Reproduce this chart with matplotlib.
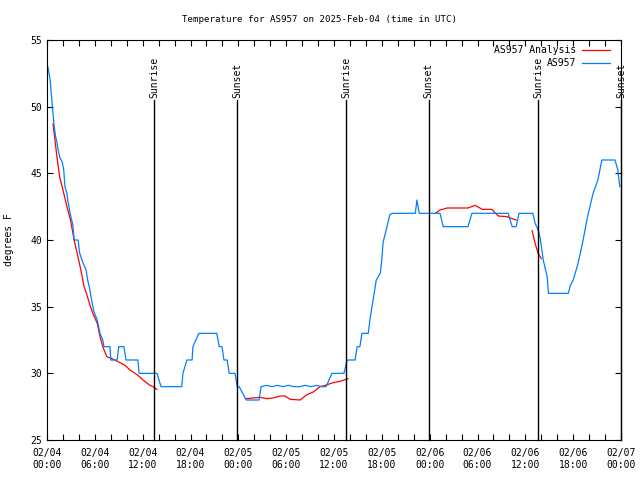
import numpy as np
import pandas as pd
import matplotlib
matplotlib.use("Agg")
import matplotlib.pyplot as plt
import matplotlib.dates as mdates

plt.rcParams['font.family'] = ['DejaVu Sans Mono']
plt.rcParams['font.size'] = 7

base = pd.Timestamp("2025-02-04 00:00")

# observed station temperature: (hours after 02/04 00:00 UTC, deg F)
obs = [(0.1, 53.0), (0.4, 52.0), (0.6, 50.5), (0.75, 49.5), (0.9, 48.5), (1.1, 47.7),
       (1.25, 47.3), (1.4, 46.75), (1.6, 46.2), (1.9, 45.85), (2.1, 45.25), (2.25, 44.0),
       (2.5, 43.5), (2.6, 43.0), (2.9, 42.0), (3.25, 41.1), (3.4, 40.0), (3.9, 40.0),
       (4.1, 39.0), (4.5, 38.3), (4.9, 37.75), (5.1, 37.0), (5.3, 36.5), (5.65, 35.3),
       (5.9, 34.6), (6.3, 34.0), (6.65, 33.0), (7.0, 32.5), (7.15, 32.0), (7.9, 32.0),
       (8.0, 31.0), (8.8, 31.0), (9.0, 32.0), (9.65, 32.0), (9.9, 31.0), (11.4, 31.0),
       (11.55, 30.0), (13.8, 30.0), (14.3, 29.0), (16.9, 29.0), (17.05, 30.0), (17.55, 31.0),
       (18.2, 31.0), (18.3, 32.0), (19.05, 33.0), (21.3, 33.0), (21.6, 32.0), (21.95, 32.0),
       (22.2, 31.0), (22.6, 31.0), (22.85, 30.0), (23.6, 30.0), (23.85, 29.0), (24.1, 29.0),
       (25.0, 28.0), (26.6, 28.0), (26.85, 29.0), (27.5, 29.1), (28.2, 29.0), (28.9, 29.1),
       (29.6, 29.0), (30.3, 29.1), (31.0, 29.0), (31.7, 29.0), (32.4, 29.1), (33.1, 29.0),
       (33.8, 29.1), (34.4, 29.0), (35.0, 29.0), (35.75, 30.0), (37.25, 30.0), (37.65, 31.0),
       (38.65, 31.0), (38.9, 32.0), (39.25, 32.0), (39.5, 33.0), (40.3, 33.0), (40.5, 34.0),
       (40.9, 35.5), (41.3, 37.0), (41.5, 37.2), (41.8, 37.5), (42.0, 38.5), (42.15, 39.8),
       (42.65, 41.0), (43.0, 41.9), (43.3, 42.0), (46.2, 42.0), (46.4, 43.0), (46.7, 42.0),
       (49.3, 42.0), (49.7, 41.0), (52.8, 41.0), (53.3, 42.0), (57.85, 42.0), (58.35, 41.0),
       (58.85, 41.0), (59.2, 42.0), (60.95, 42.0), (61.2, 41.3), (61.6, 40.75), (61.85, 40.2),
       (62.25, 38.5), (62.75, 37.2), (62.9, 36.0), (65.4, 36.0), (65.65, 36.6), (66.0, 37.0),
       (66.5, 38.0), (66.9, 39.0), (67.25, 40.0), (67.75, 41.6), (68.1, 42.5), (68.5, 43.5),
       (69.1, 44.5), (69.6, 46.0), (71.25, 46.0), (71.6, 45.25), (71.85, 44.0)]

# analysis temperature; NaN marks gaps
ana = [(0.75, 48.7), (1.0, 47.5), (1.25, 46.2), (1.6, 44.7), (2.0, 43.75), (2.5, 42.5),
       (2.9, 41.6), (3.1, 41.0), (3.4, 40.0), (3.9, 38.7), (4.25, 37.75), (4.65, 36.5),
       (5.0, 35.9), (5.4, 35.1), (5.75, 34.5), (6.3, 33.75), (6.65, 32.75), (7.0, 32.0),
       (7.5, 31.25), (8.15, 31.1), (9.15, 30.8), (9.8, 30.6), (10.4, 30.25), (11.3, 29.9),
       (12.05, 29.5), (12.9, 29.1), (13.3, 29.0), (13.8, 28.8), (14.0, np.nan),
       (25.0, 28.1), (25.85, 28.15), (26.7, 28.2), (27.6, 28.1), (28.35, 28.15),
       (29.25, 28.3), (29.85, 28.3), (30.5, 28.05), (31.75, 28.0), (32.6, 28.4),
       (33.4, 28.6), (34.25, 29.0), (34.9, 29.1), (35.9, 29.3), (36.75, 29.4),
       (37.75, 29.6), (38.0, np.nan),
       (48.7, 42.0), (49.3, 42.25), (50.2, 42.4), (52.8, 42.4), (53.7, 42.6), (54.6, 42.3),
       (55.8, 42.3), (56.6, 41.8), (57.7, 41.75), (58.35, 41.6), (58.85, 41.5), (59.0, np.nan),
       (60.85, 40.7), (61.2, 39.8), (61.6, 39.0), (62.0, 38.6)]

sun_times = ["2025-02-04 13:26", "2025-02-04 23:50", "2025-02-05 13:30",
             "2025-02-05 23:54", "2025-02-06 13:36", "2025-02-07 00:00"]
sun_labels = ["Sunrise", "Sunset", "Sunrise", "Sunset", "Sunrise", "Sunset"]

obs_hours, obs_temps = zip(*obs)
ana_hours, ana_temps = zip(*ana)
obs_t = base + pd.to_timedelta(list(obs_hours), unit="h")
ana_t = base + pd.to_timedelta(list(ana_hours), unit="h")

fig = plt.figure(figsize=(6.4, 4.8), dpi=100)
ax = fig.add_axes([47 / 640, 40 / 480, 574 / 640, 400 / 480])

red = "#ff0000"
blue = "#0080ff"
ax.plot(ana_t, ana_temps, color=red, lw=0.9)
ax.plot(obs_t, obs_temps, color=blue, lw=0.9)

for st, lab in zip(sun_times, sun_labels):
    t = pd.Timestamp(st)
    ax.plot([t, t], [25, 50.5], color="black", lw=1.0, clip_on=False)
    ax.text(t, 50.65, lab, rotation=90, ha="center", va="bottom", fontsize=7)

ax.set_xlim(base, base + pd.Timedelta(hours=72))
ax.set_ylim(25, 55)
ax.set_yticks(np.arange(25, 56, 5))
ax.xaxis.set_major_locator(mdates.HourLocator(byhour=range(0, 24, 6)))
ax.xaxis.set_minor_locator(mdates.HourLocator(byhour=range(0, 24, 2)))
ax.xaxis.set_major_formatter(mdates.DateFormatter("%m/%d\n%H:%M"))
ax.tick_params(which="both", direction="in", top=True, right=True, length=4, width=0.8,
               labelsize=7)
ax.tick_params(axis="x", pad=6)
for s in ax.spines.values():
    s.set_linewidth(0.8)

ax.set_ylabel("degrees F", fontsize=7, labelpad=12)
fig.text(0.5, 1 - 20 / 480, "Temperature for AS957 on 2025-Feb-04 (time in UTC)",
         ha="center", va="center", fontsize=6.6)

# gnuplot-style key, text left of sample
ax.text(0.922, 0.975, "AS957 Analysis", transform=ax.transAxes, ha="right", va="center")
ax.plot([0.932, 0.981], [0.975, 0.975], color=red, lw=0.9, transform=ax.transAxes)
ax.text(0.922, 0.9425, "AS957", transform=ax.transAxes, ha="right", va="center")
ax.plot([0.932, 0.981], [0.9425, 0.9425], color=blue, lw=0.9, transform=ax.transAxes)

fig.savefig("out.png", dpi=100)
